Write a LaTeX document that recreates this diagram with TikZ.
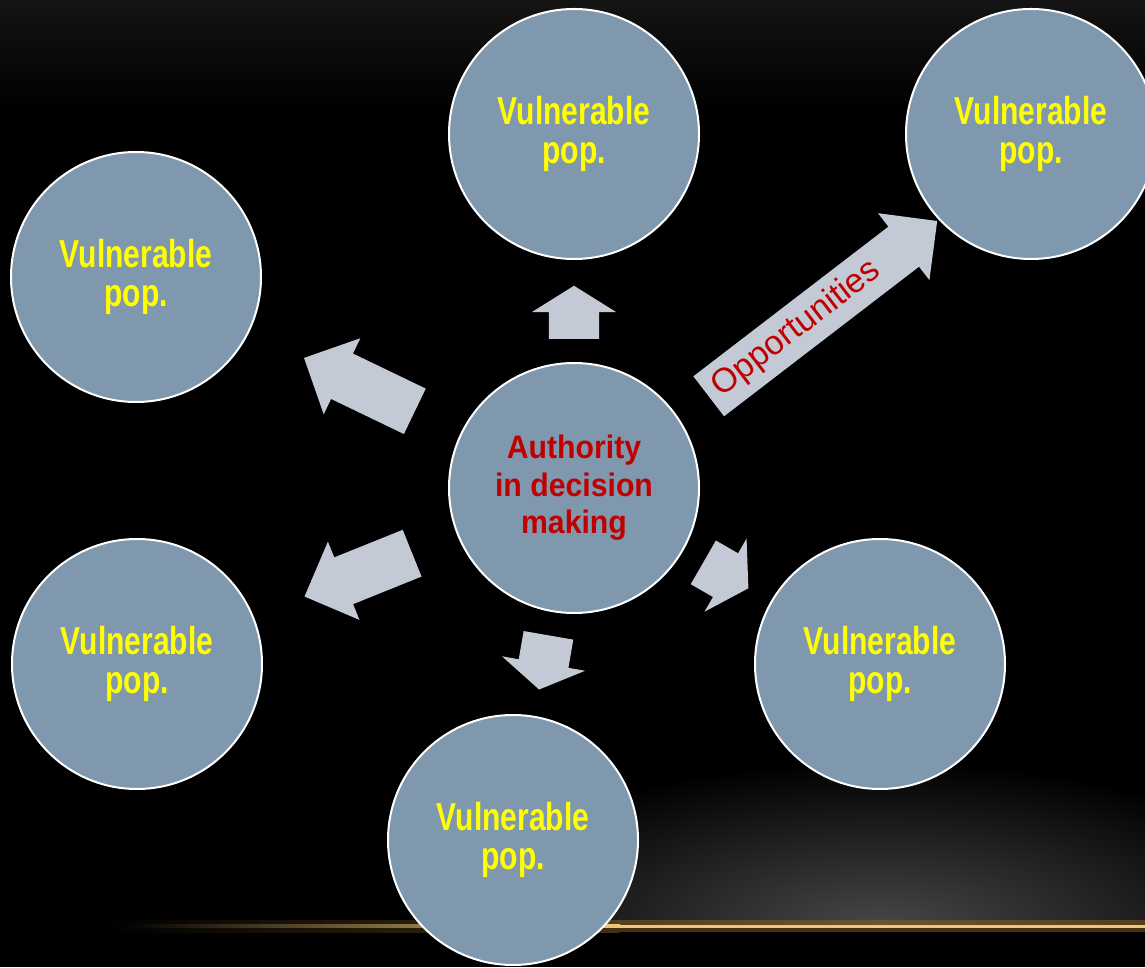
\documentclass[tikz,border=0pt]{standalone}
\usepackage{fontspec}
\usetikzlibrary{shapes.arrows,calc}
\newfontfamily\vpfont[FakeStretch=0.77]{Liberation Sans}
\newfontfamily\authfont[FakeStretch=0.93]{Liberation Sans}
\newfontfamily\oppfont{Liberation Sans}
\definecolor{vpfill}{HTML}{7F98AD}
\definecolor{arrowfill}{HTML}{C3CAD5}
\definecolor{authred}{HTML}{C00000}
\definecolor{vpyellow}{HTML}{FFFF00}
\definecolor{topgray}{HTML}{141414}
\definecolor{glowgray}{HTML}{474747}
\definecolor{linegold}{HTML}{EEC77E}
\definecolor{glowgold}{HTML}{8A6020}
\tikzset{
  vulnerable/.style={circle, draw=white, line width=2pt, fill=vpfill, minimum size=250pt,
    inner sep=0pt, align=center, text=vpyellow, font=\vpfont\bfseries\fontsize{39}{38.5}\selectfont},
  authority/.style={vulnerable, text=authred, font=\authfont\bfseries\fontsize{32.5}{37.5}\selectfont},
  bigarrow/.style={single arrow, fill=arrowfill, inner xsep=0pt, inner ysep=25pt, minimum width=84pt,
    single arrow head extend=17pt, single arrow tip angle=90, single arrow head indent=0pt, anchor=tail},
  smallarrow/.style={bigarrow, single arrow tip angle=116},
  onpath/.style={sloped, allow upside down},
  opptext/.style={text=authred, font=\oppfont\fontsize{34}{34}\selectfont, inner sep=0pt}
}
\begin{document}
\begin{tikzpicture}[x=1pt,y=1pt]
\useasboundingbox (0,0) rectangle (1145,967);
\clip (0,0) rectangle (1145,967);
\fill[black] (0,0) rectangle (1145,967);
\shade[top color=topgray, bottom color=black] (0,857) rectangle (1145,967);
\begin{scope}
\clip (0,41) rectangle (1145,300);
\shade[inner color=glowgray, outer color=black] (880,41) ellipse [x radius=450, y radius=165];
\end{scope}
\shade[left color=black, right color=glowgold, opacity=.5] (100,35) rectangle (620,47);
\fill[glowgold, opacity=.5] (620,35) rectangle (1145,47);
\shade[left color=black, right color=linegold] (120,39.5) rectangle (620,42.5);
\fill[linegold] (620,39.5) rectangle (1145,42.5);

\node[authority] (auth) at (574,479) {Authority\\in decision\\making};
\node[vulnerable] (vpT) at (574,833) {Vulnerable\\pop.};
\node[vulnerable] (vpTR) at (1031,833) {Vulnerable\\pop.};
\node[vulnerable] (vpUL) at (136,690) {Vulnerable\\pop.};
\node[vulnerable] (vpLL) at (137,303) {Vulnerable\\pop.};
\node[vulnerable] (vpLR) at (880,303) {Vulnerable\\pop.};
\node[vulnerable] (vpB) at (513,127) {Vulnerable\\pop.};

\path (auth.center) -- node[smallarrow, onpath, pos=.421, minimum height=53pt] (arT) {} (vpT.center);
\path (auth.center) -- node[bigarrow, onpath, pos=.363, minimum height=123pt] (arUL) {} (vpUL.center);
\path (auth.center) -- node[bigarrow, onpath, pos=.370, minimum height=116pt] (arLL) {} (vpLL.center);
\path (auth.center) -- node[smallarrow, onpath, pos=.418, minimum height=55pt] (arB) {} (vpB.center);
\path (auth.center) -- node[smallarrow, onpath, pos=.422, minimum height=52pt] (arLR) {} (vpLR.center);
\node[bigarrow, rotate=37.5, minimum height=288pt] (arOpp) at ($(auth.center)!.281!(vpTR.center)!10pt!-90:(vpTR.center)$) {};
\node[opptext, rotate=37.5] (oppLabel) at ($(arOpp.tail)!.385!(arOpp.tip)$) {Opportunities};
\end{tikzpicture}
\end{document}
